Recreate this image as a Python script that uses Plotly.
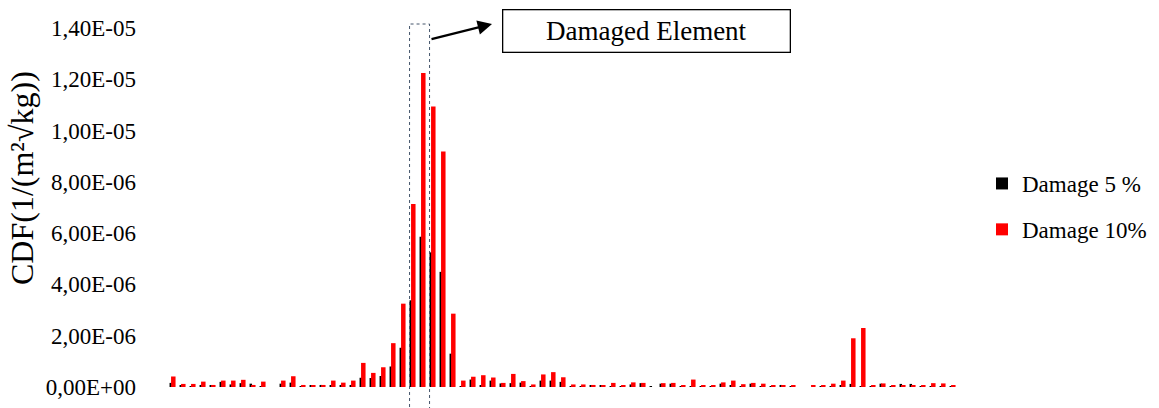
import plotly.graph_objects as go

# Element numbers along the structure
elements = list(range(1, 80))

# CDF values per element for the two damage levels
cdf_damage_5 = [
    1.6e-07, 0.5e-07, 0.3e-07, 0.8e-07, 0.4e-07, 2.0e-07, 1.0e-07, 1.5e-07, 1.3e-07, 0.3e-07,
    0.0, 1.3e-07, 1.7e-07, 0.3e-07, 0.6e-07, 0.8e-07, 0.4e-07, 0.8e-07, 0.8e-07, 3.6e-07,
    3.5e-07, 4.3e-07, 8.0e-07, 1.53e-06, 3.38e-06, 5.86e-06, 5.25e-06, 4.49e-06, 1.30e-06, 0.3e-07,
    2.9e-07, 0.5e-07, 2.5e-07, 1.4e-07, 1.5e-07, 1.7e-07, 0.3e-07, 2.5e-07, 2.5e-07, 2.0e-07,
    0.2e-07, 0.2e-07, 0.5e-07, 0.5e-07, 0.3e-07, 0.2e-07, 1.0e-07, 1.5e-07, 0.3e-07, 1.3e-07,
    1.3e-07, 0.2e-07, 0.3e-07, 0.2e-07, 0.1e-07, 1.3e-07, 0.5e-07, 0.2e-07, 1.3e-07, 0.2e-07,
    0.3e-07, 0.8e-07, 0.2e-07, 0.0, 0.0, 0.1e-07, 0.2e-07, 0.5e-07, 1.2e-07, 0.1e-07,
    0.1e-07, 1.3e-07, 0.3e-07, 1.2e-07, 1.2e-07, 0.2e-07, 0.3e-07, 0.2e-07, 0.1e-07,
]
cdf_damage_10 = [
    4.1e-07, 1.2e-07, 1.2e-07, 2.1e-07, 0.8e-07, 2.5e-07, 2.5e-07, 2.8e-07, 0.8e-07, 2.1e-07,
    0.0, 2.5e-07, 4.2e-07, 0.8e-07, 0.6e-07, 0.8e-07, 2.5e-07, 1.7e-07, 2.5e-07, 9.4e-07,
    5.5e-07, 7.7e-07, 1.71e-06, 3.25e-06, 7.14e-06, 1.225e-05, 1.094e-05, 9.18e-06, 2.86e-06, 2.5e-07,
    4.0e-07, 4.6e-07, 3.7e-07, 1.6e-07, 5.1e-07, 2.3e-07, 1.0e-07, 4.9e-07, 5.8e-07, 3.8e-07,
    1.0e-07, 1.0e-07, 0.8e-07, 0.6e-07, 1.6e-07, 0.6e-07, 1.8e-07, 1.6e-07, 0.0, 1.5e-07,
    1.6e-07, 0.7e-07, 2.9e-07, 0.6e-07, 0.6e-07, 1.8e-07, 2.5e-07, 1.1e-07, 1.6e-07, 1.3e-07,
    0.5e-07, 0.6e-07, 0.6e-07, 0.0, 0.5e-07, 0.5e-07, 1.3e-07, 2.5e-07, 1.9e-06, 2.3e-06,
    0.6e-07, 1.4e-07, 0.5e-07, 0.6e-07, 0.6e-07, 0.7e-07, 1.5e-07, 1.4e-07, 0.4e-07,
]

# Y axis ticks (comma decimal notation)
y_tick_values = [0, 2e-06, 4e-06, 6e-06, 8e-06, 1e-05, 1.2e-05, 1.4e-05]
y_tick_labels = ["0,00E+00", "2,00E-06", "4,00E-06", "6,00E-06",
                 "8,00E-06", "1,00E-05", "1,20E-05", "1,40E-05"]

# Elements enclosed by the highlight box
damaged_span = (25, 26)

SERIF = "Liberation Serif, Times New Roman, serif"

W, H = 1159, 408
ML, MR, MT, MB = 165, 194, 28, 21
X_RANGE = [0.245, 80.245]
Y_RANGE = [0, 1.4e-05]

fig = go.Figure()
fig.add_trace(go.Bar(
    x=elements, y=cdf_damage_5, name="Damage 5 %", legendgroup="d5",
    marker=dict(color="#000000", line=dict(width=0)),
    width=0.25, offset=-0.3,
))
fig.add_trace(go.Bar(
    x=elements, y=cdf_damage_10, name="Damage 10%", legendgroup="d10",
    marker=dict(color="#ff0000", line=dict(width=0)),
    width=0.45, offset=-0.15,
))

plot_w = W - ML - MR
plot_h = H - MT - MB


def x_paper(v):
    return (v - X_RANGE[0]) / (X_RANGE[1] - X_RANGE[0])


def px_to_paper_x(px):
    return (px - ML) / plot_w


def px_to_paper_y(py):
    return (H - MB - py) / plot_h


# Dotted box around the damaged element
box_x0 = x_paper(damaged_span[0] - 0.3)
box_x1 = x_paper(damaged_span[1] + 1 - 0.3)
fig.add_shape(
    type="rect", xref="paper", yref="paper",
    x0=box_x0, x1=box_x1, y0=px_to_paper_y(420), y1=px_to_paper_y(24),
    line=dict(color="#44546a", width=1, dash="dot"),
)

# Label box
fig.add_annotation(
    xref="paper", yref="paper",
    x=px_to_paper_x(646), y=px_to_paper_y(31.5),
    text="Damaged Element", showarrow=False,
    font=dict(family=SERIF, size=27, color="#000000"),
    bordercolor="#000000", borderwidth=1.3, borderpad=0,
    width=286, height=41, bgcolor="#ffffff",
    xanchor="center", yanchor="middle",
)

# Arrow from the dotted box to the label
tip_x, tip_y = 492, 24
tail_x, tail_y = 430, 39.5
fig.add_annotation(
    xref="paper", yref="paper",
    x=px_to_paper_x(tip_x), y=px_to_paper_y(tip_y),
    ax=tail_x - tip_x, ay=tail_y - tip_y,
    text="", showarrow=True,
    arrowhead=2, arrowsize=1.3, arrowwidth=2.2, arrowcolor="#000000",
)

# Y axis title
fig.add_annotation(
    xref="paper", yref="paper",
    x=px_to_paper_x(22), y=px_to_paper_y(178),
    text="CDF(1/(m²√kg))", showarrow=False, textangle=-90,
    font=dict(family=SERIF, size=32, color="#000000"),
    xanchor="center", yanchor="middle",
)

fig.update_layout(
    width=W, height=H,
    margin=dict(l=ML, r=MR, t=MT, b=MB, pad=0, autoexpand=False),
    paper_bgcolor="#ffffff", plot_bgcolor="#ffffff",
    barmode="overlay",
    showlegend=True,
    legend=dict(
        x=px_to_paper_x(982), y=px_to_paper_y(162),
        xanchor="left", yanchor="top",
        font=dict(family=SERIF, size=23, color="#000000"),
        tracegroupgap=13, traceorder="grouped",
        itemwidth=30, bgcolor="rgba(0,0,0,0)",
    ),
    font=dict(family=SERIF, color="#000000"),
)
fig.update_xaxes(
    range=X_RANGE, showticklabels=False, showgrid=False,
    zeroline=False, showline=False, ticks="", automargin=False,
)
fig.update_yaxes(
    range=Y_RANGE, tickvals=y_tick_values, ticktext=y_tick_labels,
    showgrid=False, zeroline=False, showline=False, ticks="",
    tickfont=dict(family=SERIF, size=23, color="#000000"),
    ticklabelstandoff=28, automargin=False,
)

fig.write_html("out.html")
